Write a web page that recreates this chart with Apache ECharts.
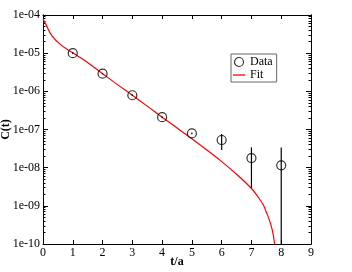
<!DOCTYPE html>
<html><head><meta charset="utf-8">
<script src="https://cdn.jsdelivr.net/npm/echarts@6/dist/echarts.min.js"></script>
<style>html,body{margin:0;padding:0;background:#fff}#c{width:352px;height:272px}</style>
</head><body><div id="c"></div>
<script>
// Data points (t/a, C(t)) with error bar bounds
const dataT = [1, 2, 3, 4, 5, 6, 7, 8];
const dataC = [1.0e-5, 2.9e-6, 7.9e-7, 2.1e-7, 7.9e-8, 5.3e-8, 1.78e-8, 1.15e-8];
const errHi = [1.05e-5, 3.0e-6, 8.2e-7, 2.2e-7, 8.3e-8, 7.6e-8, 3.4e-8, 3.4e-8];
const errLo = [0.95e-5, 2.8e-6, 7.6e-7, 2.0e-7, 7.5e-8, 2.9e-8, 2.9e-9, null]; // null: below axis
// Fit curve
const fitT = [0, 0.1, 0.3, 0.6, 1.0, 1.4, 2, 2.5, 3, 3.5, 4, 4.5, 5, 5.5, 6, 6.5, 7, 7.2, 7.4, 7.5, 7.6, 7.7, 7.78];
const fitC = [8.0e-5, 5.6e-5, 2.85e-5, 1.65e-5, 1.02e-5, 6.4e-6, 2.9e-6, 1.5e-6, 7.9e-7, 4.1e-7, 2.1e-7, 1.1e-7, 5.7e-8, 2.9e-8, 1.44e-8, 6.7e-9, 2.85e-9, 1.8e-9, 1.05e-9, 6.8e-10, 4.3e-10, 2.3e-10, 1.0e-10];
// Ticks
const yMajor = [1e-10, 1e-9, 1e-8, 1e-7, 1e-6, 1e-5, 1e-4];
const yMajorLabels = ['1e-10', '1e-09', '1e-08', '1e-07', '1e-06', '1e-05', '1e-04'];
const yMinorMult = [2, 3, 4, 5, 6, 7, 8, 9];
const xTickLabels = ['0','1','2','3','4','5','6','7','8','9'];

const yMinor = [];
for (let i = 0; i < yMajor.length - 1; i++) for (const m of yMinorMult) yMinor.push(yMajor[i] * m);

const FONT = '"Liberation Serif", "DejaVu Serif", serif';
const chart = echarts.init(document.getElementById('c'));
const GRID = { left: 43, right: 41, top: 15, bottom: 28, outerBoundsMode: 'none', containLabel: false };

function yAx(pos, vals, len, labels) {
  return {
    type: 'log', logBase: 10, min: 1e-10, max: 1e-4, position: pos,
    axisLine: { show: true, lineStyle: { color: '#000', width: 1 } },
    axisTick: { show: true, inside: true, length: len, customValues: vals, lineStyle: { color: '#000', width: 1 } },
    axisLabel: labels ? {
      show: true, customValues: yMajor, margin: 3, color: '#000', fontFamily: FONT, fontSize: 12,
      formatter: v => yMajorLabels[Math.round(Math.log10(v)) + 10]
    } : { show: false },
    splitLine: { show: false },
    name: labels ? 'C(t)' : '', nameLocation: 'middle', nameGap: 31, nameMoveOverlap: false,
    nameTextStyle: { color: '#000', fontFamily: FONT, fontSize: 12, fontWeight: 'bold' }
  };
}

const option = {
  animation: false,
  backgroundColor: '#fff',
  grid: GRID,
  legend: {
    orient: 'vertical', left: 231, top: 54,
    borderColor: '#666', borderWidth: 1, padding: [2, 4, 1, 2], itemGap: 1,
    itemWidth: 12, itemHeight: 9, symbolKeepAspect: true,
    textStyle: { fontFamily: FONT, fontSize: 12, color: '#000', padding: [0, 0, 0, 0] },
    data: [
      { name: 'Data', icon: 'circle', itemStyle: { color: 'rgba(255,255,255,0)', borderColor: '#000', borderWidth: 1.2 } },
      { name: 'Fit', icon: 'path://M0,0H12V1.3H0Z', itemStyle: { color: '#ff0000' } }
    ]
  },
  xAxis: [{
    type: 'value', min: 0, max: 9, interval: 1, position: 'bottom',
    axisLine: { lineStyle: { color: '#000', width: 1 } },
    axisTick: { inside: true, length: 4, lineStyle: { color: '#000' } },
    axisLabel: { margin: 3, color: '#000', fontFamily: FONT, fontSize: 12, formatter: v => xTickLabels[Math.round(v)] },
    splitLine: { show: false },
    name: 't/a', nameLocation: 'middle', nameGap: 12, nameMoveOverlap: false,
    nameTextStyle: { color: '#000', fontFamily: FONT, fontSize: 12, fontWeight: 'bold' }
  }, {
    type: 'value', min: 0, max: 9, interval: 1, position: 'top',
    axisLine: { lineStyle: { color: '#000', width: 1 } },
    axisTick: { inside: true, length: 4, lineStyle: { color: '#000' } },
    axisLabel: { show: false }, splitLine: { show: false }
  }],
  yAxis: [
    yAx('left', yMajor, 5, true),
    yAx('left', yMinor, 2.5, false),
    yAx('right', yMajor, 5, false),
    yAx('right', yMinor, 2.5, false)
  ],
  series: [
    {
      name: 'Fit', type: 'line', xAxisIndex: 0, yAxisIndex: 0,
      data: fitT.map((t, i) => [t, fitC[i]]),
      showSymbol: false, symbol: 'none', smooth: 0.4,
      lineStyle: { color: '#ff0000', width: 1.2 }, itemStyle: { color: '#ff0000' }, z: 2
    },
    {
      name: 'ErrBars', type: 'custom', xAxisIndex: 0, yAxisIndex: 0,
      data: dataT.map((t, i) => [t, errHi[i], errLo[i] == null ? 1e-10 : errLo[i]]),
      renderItem: (params, api) => {
        const p1 = api.coord([api.value(0), api.value(1)]);
        const p2 = api.coord([api.value(0), api.value(2)]);
        return { type: 'line', shape: { x1: p1[0], y1: p1[1], x2: p2[0], y2: p2[1] },
                 style: { stroke: '#000', lineWidth: 1.2 } };
      }, z: 3
    },
    {
      name: 'Data', type: 'scatter', xAxisIndex: 0, yAxisIndex: 0,
      data: dataT.map((t, i) => [t, dataC[i]]),
      symbol: 'circle', symbolSize: 9,
      itemStyle: { color: 'rgba(255,255,255,0)', borderColor: '#000', borderWidth: 1.2 }, z: 4
    }
  ]
};
chart.setOption(option);
</script></body></html>
